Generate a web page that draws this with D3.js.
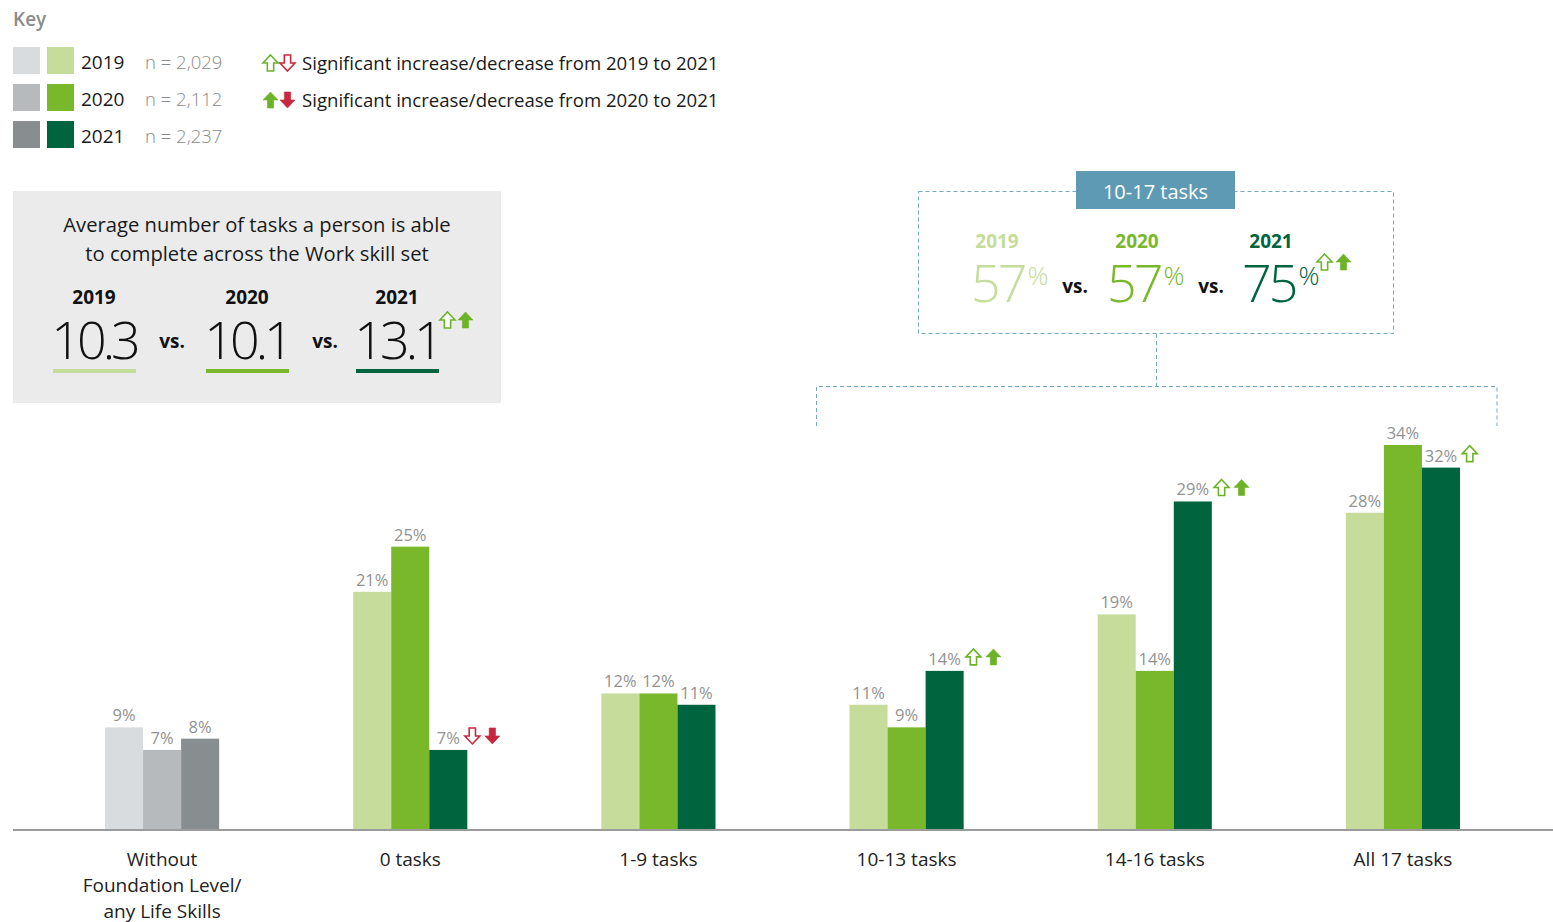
<!DOCTYPE html>
<html>
<head>
<meta charset="utf-8">
<script src="https://cdn.jsdelivr.net/npm/d3@7"></script>
<style>
  body { margin: 0; background: #fff; }
  svg { display: block; font-family: "Open Sans", sans-serif; }
</style>
</head>
<body>
<div id="chart"></div>
<script>
// ---- data ----
const categories = ["Without Foundation Level/ any Life Skills", "0 tasks", "1-9 tasks", "10-13 tasks", "14-16 tasks", "All 17 tasks"];
const categoryLines = [["Without", "Foundation Level/", "any Life Skills"], ["0 tasks"], ["1-9 tasks"], ["10-13 tasks"], ["14-16 tasks"], ["All 17 tasks"]];
const years = ["2019", "2020", "2021"];
const sampleSizes = ["n = 2,029", "n = 2,112", "n = 2,237"];
const values2019 = [9, 21, 12, 11, 19, 28];
const values2020 = [7, 25, 12, 9, 14, 34];
const values2021 = [8, 7, 11, 14, 29, 32];
// significance markers on the 2021 bar
const sigFrom2019 = [null, "down", null, "up", "up", "up"];
const sigFrom2020 = [null, "down", null, "up", "up", null];
const avgValues = ["10.3", "10.1", "13.1"];
const rangeValues = ["57", "57", "75"];

const greens = ["#c5dc9b", "#78b82a", "#00653f"];
const grays = ["#d9dcdf", "#b6babc", "#888e90"];
const red = "#c8283f";
const upGreen = "#6db32a";
const dashBlue = "#74a9c4";

const W = 1553, H = 922;
const svg = d3.select("#chart").append("svg").attr("width", W).attr("height", H);

function arrowPath(x, y, w, h, dir) {
  const hh = h * 0.5, sw = w * 0.42, cx = x + w / 2;
  if (dir === "up")
    return `M${cx},${y}L${x + w},${y + hh}L${cx + sw / 2},${y + hh}L${cx + sw / 2},${y + h}L${cx - sw / 2},${y + h}L${cx - sw / 2},${y + hh}L${x},${y + hh}Z`;
  return `M${cx},${y + h}L${x + w},${y + h - hh}L${cx + sw / 2},${y + h - hh}L${cx + sw / 2},${y}L${cx - sw / 2},${y}L${cx - sw / 2},${y + h - hh}L${x},${y + h - hh}Z`;
}
function drawArrow(x, y, dir, filled) {
  const c = dir === "up" ? upGreen : red;
  svg.append("path")
    .attr("d", arrowPath(x + 1, y + 1, 15, 16, dir))
    .attr("fill", filled ? c : "#fff")
    .attr("stroke", c)
    .attr("stroke-width", filled ? 0.6 : 1.6)
    .attr("stroke-linejoin", "miter");
}

// ---- key ----
svg.append("text").attr("x", 13).attr("y", 26).text("Key")
  .attr("font-size", 19).attr("font-weight", 600).attr("fill", "#8c8c8c");

const key = svg.append("g").selectAll("g").data(years).join("g")
  .attr("transform", (d, i) => `translate(0,${47 + i * 37})`);
key.append("rect").attr("x", 13).attr("width", 27).attr("height", 27).attr("fill", (d, i) => grays[i]);
key.append("rect").attr("x", 47).attr("width", 27).attr("height", 27).attr("fill", (d, i) => greens[i]);
key.append("text").attr("x", 81).attr("y", 22).attr("font-size", 19).attr("fill", "#1a1a1a").text(d => d);
key.append("text").attr("x", 145).attr("y", 22).attr("font-size", 18.5).attr("font-weight", 300).attr("fill", "#8a8a8a").text((d, i) => sampleSizes[i]);

drawArrow(262, 54, "up", false); drawArrow(279, 54, "down", false);
drawArrow(262, 91, "up", true); drawArrow(279, 91, "down", true);
svg.append("text").attr("x", 302).attr("y", 70).attr("font-size", 18.6).attr("fill", "#1a1a1a")
  .text("Significant increase/decrease from 2019 to 2021");
svg.append("text").attr("x", 302).attr("y", 107).attr("font-size", 18.6).attr("fill", "#1a1a1a")
  .text("Significant increase/decrease from 2020 to 2021");

// ---- average box ----
svg.append("rect").attr("x", 13).attr("y", 191).attr("width", 488).attr("height", 212).attr("fill", "#ebebeb");
svg.append("text").attr("x", 257).attr("y", 232).attr("text-anchor", "middle").attr("font-size", 20.2).attr("fill", "#1a1a1a")
  .text("Average number of tasks a person is able");
svg.append("text").attr("x", 257).attr("y", 261).attr("text-anchor", "middle").attr("font-size", 20.2).attr("fill", "#1a1a1a")
  .text("to complete across the Work skill set");

const avgX = [94, 247, 397];
avgValues.forEach((v, i) => {
  svg.append("text").attr("x", avgX[i]).attr("y", 304).attr("text-anchor", "middle")
    .attr("font-size", 19).attr("font-weight", 700).attr("fill", "#111").text(years[i]);
  svg.append("text").attr("x", avgX[i]).attr("y", 359).attr("text-anchor", "middle")
    .attr("font-size", 52).attr("font-weight", 300).attr("fill", "#111").attr("letter-spacing", -4).text(v);
  svg.append("rect").attr("x", avgX[i] - 41).attr("y", 369).attr("width", 83).attr("height", 4).attr("fill", greens[i]);
  if (i < 2) svg.append("text").attr("x", avgX[i] + 78).attr("y", 348).attr("text-anchor", "middle")
    .attr("font-size", 19).attr("font-weight", 700).attr("fill", "#111").text("vs.");
});
drawArrow(439, 311, "up", false); drawArrow(457, 311, "up", true);

// ---- 10-17 tasks box ----
const dash = "4,3";
svg.append("rect").attr("x", 918.5).attr("y", 191.5).attr("width", 475).attr("height", 142)
  .attr("fill", "none").attr("stroke", dashBlue).attr("stroke-dasharray", dash);
svg.append("rect").attr("x", 1076).attr("y", 171).attr("width", 159).attr("height", 38).attr("fill", "#5f9ab5");
svg.append("text").attr("x", 1155.5).attr("y", 199).attr("text-anchor", "middle")
  .attr("font-size", 20).attr("font-weight", 500).attr("fill", "#fff").text("10-17 tasks");

const rangeX = [997, 1137, 1271];
const rangeNumStart = [971, 1107, 1242];
rangeValues.forEach((v, i) => {
  svg.append("text").attr("x", rangeX[i]).attr("y", 248).attr("text-anchor", "middle")
    .attr("font-size", 19).attr("font-weight", 700).attr("fill", greens[i]).text(years[i]);
  const t = svg.append("text").attr("x", rangeNumStart[i]).attr("y", 302)
    .attr("font-weight", 300).attr("fill", greens[i]);
  t.append("tspan").attr("font-size", 52).attr("letter-spacing", -3).text(v);
  t.append("tspan").attr("font-size", 26).attr("dx", 3).attr("dy", -17).text("%");
  if (i < 2) svg.append("text").attr("x", [1075, 1211][i]).attr("y", 293).attr("text-anchor", "middle")
    .attr("font-size", 19).attr("font-weight", 700).attr("fill", "#111").text("vs.");
});
drawArrow(1316, 253, "up", false); drawArrow(1335, 253, "up", true);

// ---- chart ----
const baseY = 829;
const x = d3.scaleBand().domain(categories).range([38, 1527]).paddingInner(0.54).paddingOuter(0.27);
const xSub = d3.scaleBand().domain(years).range([0, x.bandwidth()]);
const y = d3.scaleLinear().domain([0, 34]).range([baseY, 445]);

// connector brackets above the 10-17 task groups
const bx0 = x(categories[3]) - 33, bx1 = x(categories[5]) + x.bandwidth() + 37;
const conn = svg.append("g").attr("fill", "none").attr("stroke", dashBlue).attr("stroke-dasharray", dash);
conn.append("path").attr("d", `M1156.5,334V386.5M${bx0},426V386.5H${bx1}V426`);

const series = [values2019, values2020, values2021];
const rows = categories.map((c, i) => years.map((yr, j) => ({ cat: c, ci: i, year: yr, yi: j, value: series[j][i] })));

const groups = svg.append("g").selectAll("g").data(rows).join("g")
  .attr("transform", d => `translate(${x(d[0].cat)},0)`);

groups.selectAll("rect").data(d => d).join("rect")
  .attr("x", d => xSub(d.year))
  .attr("y", d => y(d.value))
  .attr("width", xSub.bandwidth())
  .attr("height", d => baseY - y(d.value))
  .attr("fill", d => d.ci === 0 ? grays[d.yi] : greens[d.yi]);

groups.selectAll("text").data(d => d).join("text")
  .attr("x", d => xSub(d.year) + xSub.bandwidth() / 2)
  .attr("y", d => y(d.value) - 6)
  .attr("text-anchor", "middle")
  .attr("font-size", 16.5)
  .attr("fill", "#929292")
  .text(d => d.value + "%")
  .each(function (d) {
    if (d.yi !== 2) return;
    const s1 = sigFrom2019[d.ci], s2 = sigFrom2020[d.ci];
    if (!s1 && !s2) return;
    const len = this.getComputedTextLength();
    let ax = x(d.cat) + xSub(d.year) + xSub.bandwidth() / 2 + len / 2 + 4;
    const ay = y(d.value) - 23;
    if (s1) { drawArrow(ax, ay, s1, false); ax += 20; }
    if (s2) drawArrow(ax, ay, s2, true);
  });

// axis
const axis = svg.append("g").attr("transform", `translate(0,${baseY})`)
  .call(d3.axisBottom(x).tickSize(0).tickPadding(12))
  .attr("font-family", null);
axis.select(".domain").remove();
axis.selectAll("text").attr("font-size", 19).attr("fill", "#222")
  .each(function (d, i) {
    const t = d3.select(this).text(null).attr("dy", null).attr("y", 37);
    categoryLines[i].forEach((ln, k) => t.append("tspan").attr("x", 0).attr("dy", k ? 26 : 0).text(ln));
  });
svg.append("line").attr("x1", 13).attr("x2", W).attr("y1", baseY + 1).attr("y2", baseY + 1)
  .attr("stroke", "#9b9b9b").attr("stroke-width", 2);
</script>
</body>
</html>
